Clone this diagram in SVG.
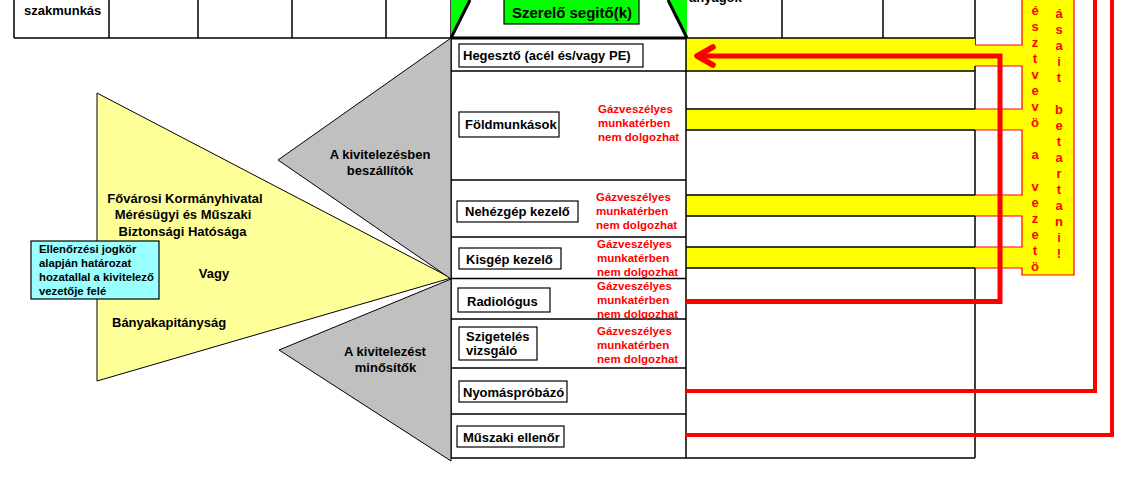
<svg xmlns="http://www.w3.org/2000/svg" width="1134" height="485" viewBox="0 0 1134 485">
<style>
.t{font-family:"Liberation Sans",Arial,sans-serif;font-weight:bold;fill:#000}
.l{font-size:13px}
.g{font-size:13px;text-anchor:middle}
.r{font-family:"Liberation Sans",Arial,sans-serif;font-weight:bold;fill:#f00;font-size:11.5px}
.c{font-size:11.3px}
.ln{stroke:#000;stroke-width:1.5;fill:none}
.box{fill:#fff;stroke:#000;stroke-width:1.2}
.red{stroke:#f00;stroke-width:4;fill:none}
.v{font-family:"Liberation Sans",Arial,sans-serif;font-weight:bold;fill:#f00;font-size:13px;text-anchor:middle}
</style>
<rect width="1134" height="485" fill="#fff"/>

<g id="top-table">
  <path class="ln" d="M14,38 H451 M14,0 V38 M109,0 V38 M198,0 V38 M292,0 V38 M386,0 V38 M451,0 V38 M782,0 V38 M883,0 V38 M975,0 V45"/>
  <text class="t l" x="24" y="15">szakmunkás</text>
  <text class="t" x="689" y="1.5" font-size="13px">anyagok</text>
</g>

<g id="szerelo">
  <polygon points="451,0 470,0 451,38" fill="#00ff00"/>
  <polygon points="668,0 687,0 687,38" fill="#00ff00"/>
  <path d="M451,38 L470,0 M687,38 L668,0 M451,38 H687" stroke="#000" stroke-width="3" fill="none"/>
  <rect x="504" y="-1" width="135" height="25" fill="#00ff00" stroke="#000" stroke-width="1.2"/>
  <text class="t" x="572" y="17.5" font-size="15px" text-anchor="middle">Szerelő segitő(k)</text>
</g>

<g id="yellow-bands">
  <rect x="686" y="38" width="289" height="33" fill="#ffff00"/>
  <rect x="686" y="109" width="336" height="21" fill="#ffff00"/>
  <rect x="686" y="195" width="336" height="21" fill="#ffff00"/>
  <rect x="686" y="247" width="336" height="21" fill="#ffff00"/>
  <polygon points="1022,-2 1074,-2 1074,275 1022,275 1022,268 975,268 975,247 1022,247 1022,216 975,216 975,195 1022,195 1022,130 975,130 975,109 1022,109 1022,66 975,66 975,45 1022,45" fill="#ffff00"/>
  <path d="M975,45 H1022 V-2 M975,66 H1022 V109 H975 M975,130 H1022 V195 H975 M975,216 H1022 V247 H975 M975,268 H1022 V275 H1074 V-2" stroke="#f00" stroke-width="1.2" fill="none"/>
  <text class="v"><tspan x="1035" y="15">é</tspan><tspan x="1035" y="31">s</tspan><tspan x="1035" y="47">z</tspan><tspan x="1035" y="63">t</tspan><tspan x="1035" y="79">v</tspan><tspan x="1035" y="95">e</tspan><tspan x="1035" y="111">v</tspan><tspan x="1035" y="127">ö</tspan><tspan x="1035" y="159">a</tspan><tspan x="1035" y="191">v</tspan><tspan x="1035" y="207">e</tspan><tspan x="1035" y="223">z</tspan><tspan x="1035" y="239">e</tspan><tspan x="1035" y="255">t</tspan><tspan x="1035" y="271">ö</tspan></text>
  <text class="v"><tspan x="1059" y="18">á</tspan><tspan x="1059" y="34">s</tspan><tspan x="1059" y="50">a</tspan><tspan x="1059" y="66">i</tspan><tspan x="1059" y="82">t</tspan><tspan x="1059" y="114">b</tspan><tspan x="1059" y="130">e</tspan><tspan x="1059" y="146">t</tspan><tspan x="1059" y="162">a</tspan><tspan x="1059" y="178">r</tspan><tspan x="1059" y="194">t</tspan><tspan x="1059" y="210">a</tspan><tspan x="1059" y="226">n</tspan><tspan x="1059" y="242">i</tspan><tspan x="1059" y="258">!</tspan></text>
</g>

<g id="main-table">
  <path class="ln" d="M451,38 V458 H975 M686,38 V458 M451,71 H686 M451,180 H686 M451,237 H686 M451,278.5 H686 M451,319 H686 M451,368 H686 M451,414 H686"/>
  <path class="ln" d="M686,38 H975 M686,71 H975 M686,109 H975 M686,130 H975 M686,195 H975 M686,216 H975 M686,247 H975 M686,268 H975 M975,66 V109 M975,130 V195 M975,216 V247 M975,268 V458"/>
</g>

<g id="hegeszto"><rect class="box" x="459" y="44" width="184" height="23"/><text class="t l" x="463" y="59.5">Hegesztő (acél és/vagy PE)</text></g>
<g id="foldmunkasok"><rect class="box" x="459" y="112" width="100" height="25"/><text class="t l" x="465" y="129">Földmunkások</text>
  <text class="r"><tspan x="598" y="113">Gázveszélyes</tspan><tspan x="598" y="127">munkatérben</tspan><tspan x="598" y="141">nem dolgozhat</tspan></text></g>
<g id="nehezgep"><rect class="box" x="457" y="201" width="121" height="21"/><text class="t l" x="465" y="216">Nehézgép kezelő</text>
  <text class="r"><tspan x="596" y="201">Gázveszélyes</tspan><tspan x="596" y="215">munkatérben</tspan><tspan x="596" y="229">nem dolgozhat</tspan></text></g>
<g id="kisgep"><rect class="box" x="459" y="248" width="102" height="21"/><text class="t l" x="466" y="263.5">Kisgép kezelő</text>
  <text class="r"><tspan x="597" y="248">Gázveszélyes</tspan><tspan x="597" y="262">munkatérben</tspan><tspan x="597" y="276">nem dolgozhat</tspan></text></g>
<g id="radiologus"><rect class="box" x="458" y="288" width="92" height="24"/><text class="t l" x="467" y="306">Radiológus</text>
  <text class="r"><tspan x="597" y="290">Gázveszélyes</tspan><tspan x="597" y="304">munkatérben</tspan><tspan x="597" y="318">nem dolgozhat</tspan></text></g>
<g id="szigeteles"><rect class="box" x="459" y="327" width="78" height="33"/><text class="t l"><tspan x="466" y="340.5">Szigetelés</tspan><tspan x="466" y="355">vizsgáló</tspan></text>
  <text class="r"><tspan x="597" y="335">Gázveszélyes</tspan><tspan x="597" y="349">munkatérben</tspan><tspan x="597" y="363">nem dolgozhat</tspan></text></g>
<g id="nyomasprobazo"><rect class="box" x="459" y="381" width="108" height="21"/><text class="t l" x="463" y="396.5">Nyomáspróbázó</text></g>
<g id="muszaki"><rect class="box" x="457" y="426" width="107" height="21"/><text class="t l" x="463" y="441.5">Műszaki ellenőr</text></g>

<g id="hatosag">
  <polygon points="97,93 451,278 97,381" fill="#ffff99" stroke="#000" stroke-width="1"/>
  <text class="t g" x="185" y="202.5">Fővárosi Kormányhivatal</text>
  <text class="t g" x="183" y="218.5">Mérésügyi és Műszaki</text>
  <text class="t g" x="182.5" y="235.5">Biztonsági Hatósága</text>
  <text class="t g" x="214" y="277.5">Vagy</text>
  <text class="t l" x="112" y="326.5">Bányakapitányság</text>
</g>
<g id="beszallitok">
  <polygon points="451,38 278,160 451,279" fill="#c0c0c0" stroke="#000" stroke-width="1"/>
  <text class="t g" x="380" y="158.5" font-size="12.5px">A kivitelezésben</text>
  <text class="t g" x="380" y="175" font-size="12.5px">beszállítók</text>
</g>
<g id="minositok">
  <polygon points="451,279 279,350 451,461" fill="#c0c0c0" stroke="#000" stroke-width="1"/>
  <text class="t g" x="385" y="355.5" font-size="12.5px">A kivitelezést</text>
  <text class="t g" x="385.5" y="371.5" font-size="12.5px">minősítők</text>
</g>
<g id="ellenorzes">
  <rect x="31" y="241" width="128" height="58" fill="#99ffff" stroke="#000" stroke-width="1.2"/>
  <text class="t c"><tspan x="39" y="253">Ellenőrzési jogkör</tspan><tspan x="39" y="267">alapján határozat</tspan><tspan x="39" y="281">hozatallal a kivitelező</tspan><tspan x="39" y="295">vezetője felé</tspan></text>
</g>

<g id="connectors">
  <path d="M686,301.5 H1000 V56 H698" stroke="#f00" stroke-width="5" fill="none"/>
  <path d="M713,47 L697,56 L713,65" stroke="#f00" stroke-width="5.5" fill="none" stroke-linecap="round" stroke-linejoin="round"/>
  <path class="red" d="M686,391 H1095 V-2"/>
  <path class="red" d="M686,435 H1112 V-2"/>
</g>
</svg>
